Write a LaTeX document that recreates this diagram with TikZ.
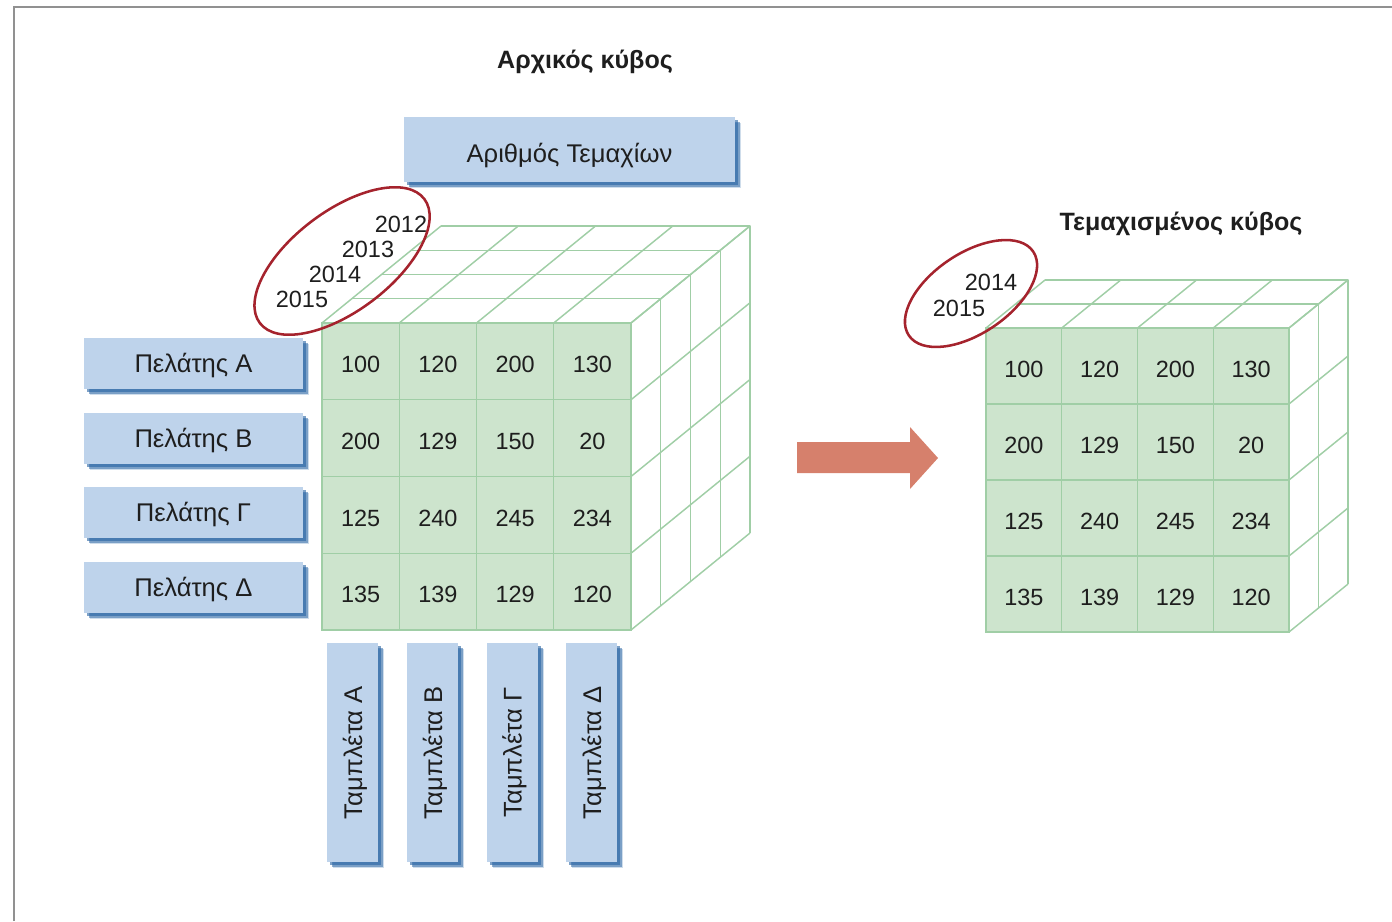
\documentclass[tikz,border=0pt]{standalone}
\usepackage{fontspec}
\usepackage{graphicx}
\setmainfont{Liberation Sans}
\usetikzlibrary{shadows}

\definecolor{cellgreen}{RGB}{205,228,205}
\definecolor{gridgreen}{RGB}{160,206,166}
\definecolor{boxblue}{RGB}{190,211,235}
\definecolor{shadeblue}{RGB}{38,98,162}
\definecolor{ringred}{RGB}{165,35,45}
\definecolor{arrowfill}{RGB}{214,128,108}
\definecolor{framegrey}{RGB}{145,145,145}
\definecolor{ink}{RGB}{30,30,30}

\newcommand{\nodepth}[1]{\raisebox{0pt}[\height][0pt]{#1}}

\tikzset{
  gridline/.style={draw=gridgreen, line width=1.1pt, line join=round},
  cell/.style={draw=gridgreen, fill=cellgreen, line width=1.1pt, inner sep=0pt,
    text=ink, font=\fontsize{17.6}{20}\selectfont, text height=17pt, text depth=0pt},
  bluebox/.style={fill=boxblue, inner sep=0pt, text=ink,
    font=\fontsize{19.2}{22}\selectfont,
    drop shadow={shadow xshift=4.8pt, shadow yshift=-4.8pt, fill=shadeblue, opacity=0.22},
    drop shadow={shadow xshift=3.8pt, shadow yshift=-3.8pt, fill=shadeblue, opacity=0.5},
    drop shadow={shadow xshift=2.6pt, shadow yshift=-2.6pt, fill=shadeblue, opacity=0.6}},
  hbox/.style={bluebox, minimum width=164.25pt, minimum height=38.25pt,
    text height=14pt, text depth=0pt},
  vbox/.style={bluebox, minimum width=38.25pt, minimum height=164.25pt},
  year/.style={text=ink, inner sep=0pt, font=\fontsize{17.6}{20}\selectfont},
  heading/.style={text=ink, inner sep=0pt, font=\fontsize{18.8}{22}\selectfont\bfseries},
  ring/.style={draw=ringred, line width=1.9pt},
}

% Wire-frame cube: #1,#2 front top-left corner, #3,#4 cell size,
% #5 number of depth layers, #6,#7 depth offset per layer (right, up)
\newcommand{\wirecube}[7]{%
  \foreach \k in {1,...,#5} {
    \draw[gridline] ({#1+\k*#6},{#2-\k*#7}) -- ++({4*#3},0) -- ++(0,{4*#4});
  }
  \foreach \j in {0,...,4} {
    \draw[gridline] ({#1+\j*#3},{#2}) -- ++({#5*#6},{-#5*#7});
    \draw[gridline] ({#1+4*#3},{#2+\j*#4}) -- ++({#5*#6},{-#5*#7});
  }
}

\begin{document}
\begin{tikzpicture}[x=0.75pt, y=-0.75pt]
\useasboundingbox (0,0) rectangle (1392,921);

% page frame
\draw[framegrey, line width=2.2pt] (14,921) -- (14,7) -- (1392,7);

% headings
\node[heading] (t1) at (585,62) {Αρχικός κύβος};
\node[heading] (t2) at (1181,224) {Τεμαχισμένος κύβος};

% ---------- original cube ----------
\wirecube{322}{323}{77.25}{76.75}{4}{29.75}{24.25}

\foreach \r/\vals in {0/{100,120,200,130}, 1/{200,129,150,20},
                      2/{125,240,245,234}, 3/{135,139,129,120}} {
  \foreach \v [count=\c from 0] in \vals {
    \node[cell, minimum width=57.94pt, minimum height=57.56pt]
      (L\r\c) at ({322+38.625+\c*77.25},{323+38.375+\r*76.75}) {\v};
  }
}

% dimension labels
\node[hbox, minimum width=248.25pt, minimum height=48.75pt, text height=19pt]
  (qty) at (569.5,149.5) {Αριθμός Τεμαχίων};

\node[hbox] (cA) at (193.5,363.5) {Πελάτης Α};
\node[hbox] (cB) at (193.5,438.5) {Πελάτης Β};
\node[hbox] (cG) at (193.5,512.5) {Πελάτης Γ};
\node[hbox] (cD) at (193.5,587.5) {Πελάτης Δ};

\node[vbox] (pA) at (352.5,752.5) {\rotatebox{90}{\nodepth{Ταμπλέτα Α}}};
\node[vbox] (pB) at (432.5,752.5) {\rotatebox{90}{\nodepth{Ταμπλέτα Β}}};
\node[vbox] (pG) at (512,752.5) {\rotatebox{90}{\nodepth{Ταμπλέτα Γ}}};
\node[vbox] (pD) at (591.5,752.5) {\rotatebox{90}{\nodepth{Ταμπλέτα Δ}}};

% years along the depth axis
\node[year] (y12) at (401,224) {2012};
\node[year] (y13) at (368,249) {2013};
\node[year] (y14) at (335,274) {2014};
\node[year] (y15) at (302,299) {2015};
\coordinate (e1) at (342,261);
\draw[ring, rotate around={37:(e1)}] (e1) ellipse [x radius=103, y radius=50];

% ---------- slice arrow ----------
\fill[arrowfill] (797,442) -- (910,442) -- (910,427) -- (938,458)
  -- (910,489) -- (910,473) -- (797,473) -- cycle;

% ---------- sliced cube ----------
\wirecube{986}{328}{75.75}{76}{2}{29.5}{24}

\foreach \r/\vals in {0/{100,120,200,130}, 1/{200,129,150,20},
                      2/{125,240,245,234}, 3/{135,139,129,120}} {
  \foreach \v [count=\c from 0] in \vals {
    \node[cell, minimum width=56.81pt, minimum height=57pt]
      (R\r\c) at ({986+37.875+\c*75.75},{328+38+\r*76}) {\v};
  }
}

\node[year] (z14) at (991,282) {2014};
\node[year] (z15) at (959,308) {2015};
\coordinate (e2) at (971,293.5);
\draw[ring, rotate around={34:(e2)}] (e2) ellipse [x radius=75, y radius=40];

\end{tikzpicture}
\end{document}
